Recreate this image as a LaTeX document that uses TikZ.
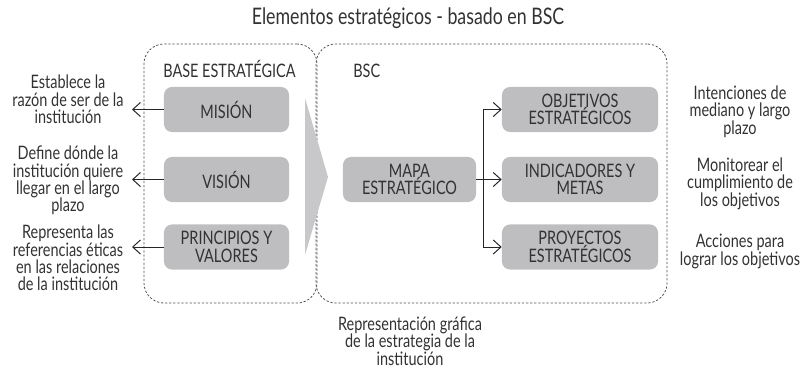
\documentclass[tikz,border=0pt]{standalone}
\usepackage{fontspec}
\setmainfont{Lato}[FakeStretch=0.78]
\usepackage{tikz}
\usetikzlibrary{shapes,arrows.meta,positioning,
  backgrounds
}
\definecolor{boxgray}{RGB}{190,190,192}
\definecolor{arrowgray}{RGB}{200,200,202}
\definecolor{inkgray}{RGB}{50,50,50}
\definecolor{linegray}{RGB}{80,80,80}
\tikzset{
 item/.style = {rectangle, rounded corners=0.2cm, fill=boxgray,
           text=inkgray, align=center, inner sep=0pt,
           minimum height=1.125cm, font=\bodyfont},
 note/.style = {align=center, text=inkgray, inner sep=0pt,
           font=\bodyfont},
 group/.style = {rectangle, rounded corners=0.5cm, draw=linegray,
           line width=0.55pt, dash pattern=on 1.6pt off 1.3pt},
 link/.style = {draw=black!85, line width=0.7pt,
           -{Straight Barb[length=5.5pt,width=10pt]}}
}
\newcommand{\bodyfont}{\fontsize{13.2}{12.4}\selectfont}

\begin{document}
\begin{tikzpicture}[x=0.025cm, y=-0.025cm]
  \useasboundingbox (0,0) rectangle (804,369);

  % Title
  \node[note, font=\fontsize{16.2}{17}\selectfont] (title) at (408,18)
  {Elementos estrat\'egicos - basado en BSC};

  % Groups
  \node[group, minimum width=4.325cm, minimum height=6.475cm]
  (base) at (230.5,173.5) {};
  \node[group, minimum width=8.775cm, minimum height=6.475cm]
  (bsc) at (491.5,173.5) {};
  \node[note, anchor=west] (basetitle) at (163,69) {BASE ESTRAT\'EGICA};
  \node[note, anchor=west] (bsctitle) at (353,71) {BSC};

  % Big arrow
  \fill[arrowgray] (305,98) -- (328,177) -- (305,255) -- cycle;

  % Base
  \node[item, minimum width=3.125cm] (mision) at (226.5,109.5) {MISI\'ON};
  \node[item, minimum width=3.125cm] (vision) at (226.5,179.5) {VISI\'ON};
  \node[item, minimum width=3.125cm] (valores) at (226.5,247)
  {PRINCIPIOS Y\\VALORES};

  % BSC
  \node[item, minimum width=3.325cm] (mapa) at (409.5,179.5)
  {MAPA\\ESTRAT\'EGICO};
  \node[item, minimum width=3.9cm] (objetivos) at (580,109.5)
  {OBJETIVOS\\ESTRAT\'EGICOS};
  \node[item, minimum width=3.9cm] (metas) at (580,179.5)
  {INDICADORES Y\\METAS};
  \node[item, minimum width=3.9cm] (proyectos) at (580,247)
  {PROYECTOS\\ESTRAT\'EGICOS};

  % Notes left
  \node[note] (nmision) at (68,99.5)
  {Establece la\\raz\'on de ser de la\\instituci\'on};
  \node[note] (nvision) at (68,180.5)
  {Define d\'onde la\\instituci\'on quiere\\llegar en el largo\\plazo};
  \node[note] (nvalores) at (68,258)
  {Representa las\\referencias \'eticas\\en las relaciones\\de la instituci\'on};

  % Notes right
  \node[note] (nobjetivos) at (740,111.5)
  {Intenciones de\\mediano y largo\\plazo};
  \node[note] (nmetas) at (740,183.5)
  {Monitorear el\\cumplimiento de\\los objetivos};
  \node[note] (nproyectos) at (740,251.5)
  {Acciones para\\lograr los objetivos};
  \node[note] (nmapa) at (410,341)
  {Representaci\'on gr\'afica\\de la estrategia de la\\instituci\'on};

  % Connectors
  \coordinate (amision) at (132,109.5);
  \coordinate (avision) at (132,179.5);
  \coordinate (avalores) at (132,247);
  \coordinate (split) at (483,179.5);
  \draw[link] (mision.west) -- (amision);
  \draw[link] (vision.west) -- (avision);
  \draw[link] (valores.west) -- (avalores);
  \draw[link, -] (mapa.east) -- (split);
  \draw[link] (split) |- (objetivos.west);
  \draw[link] (split) -- (metas.west);
  \draw[link] (split) |- (proyectos.west);
\end{tikzpicture}
\end{document}
